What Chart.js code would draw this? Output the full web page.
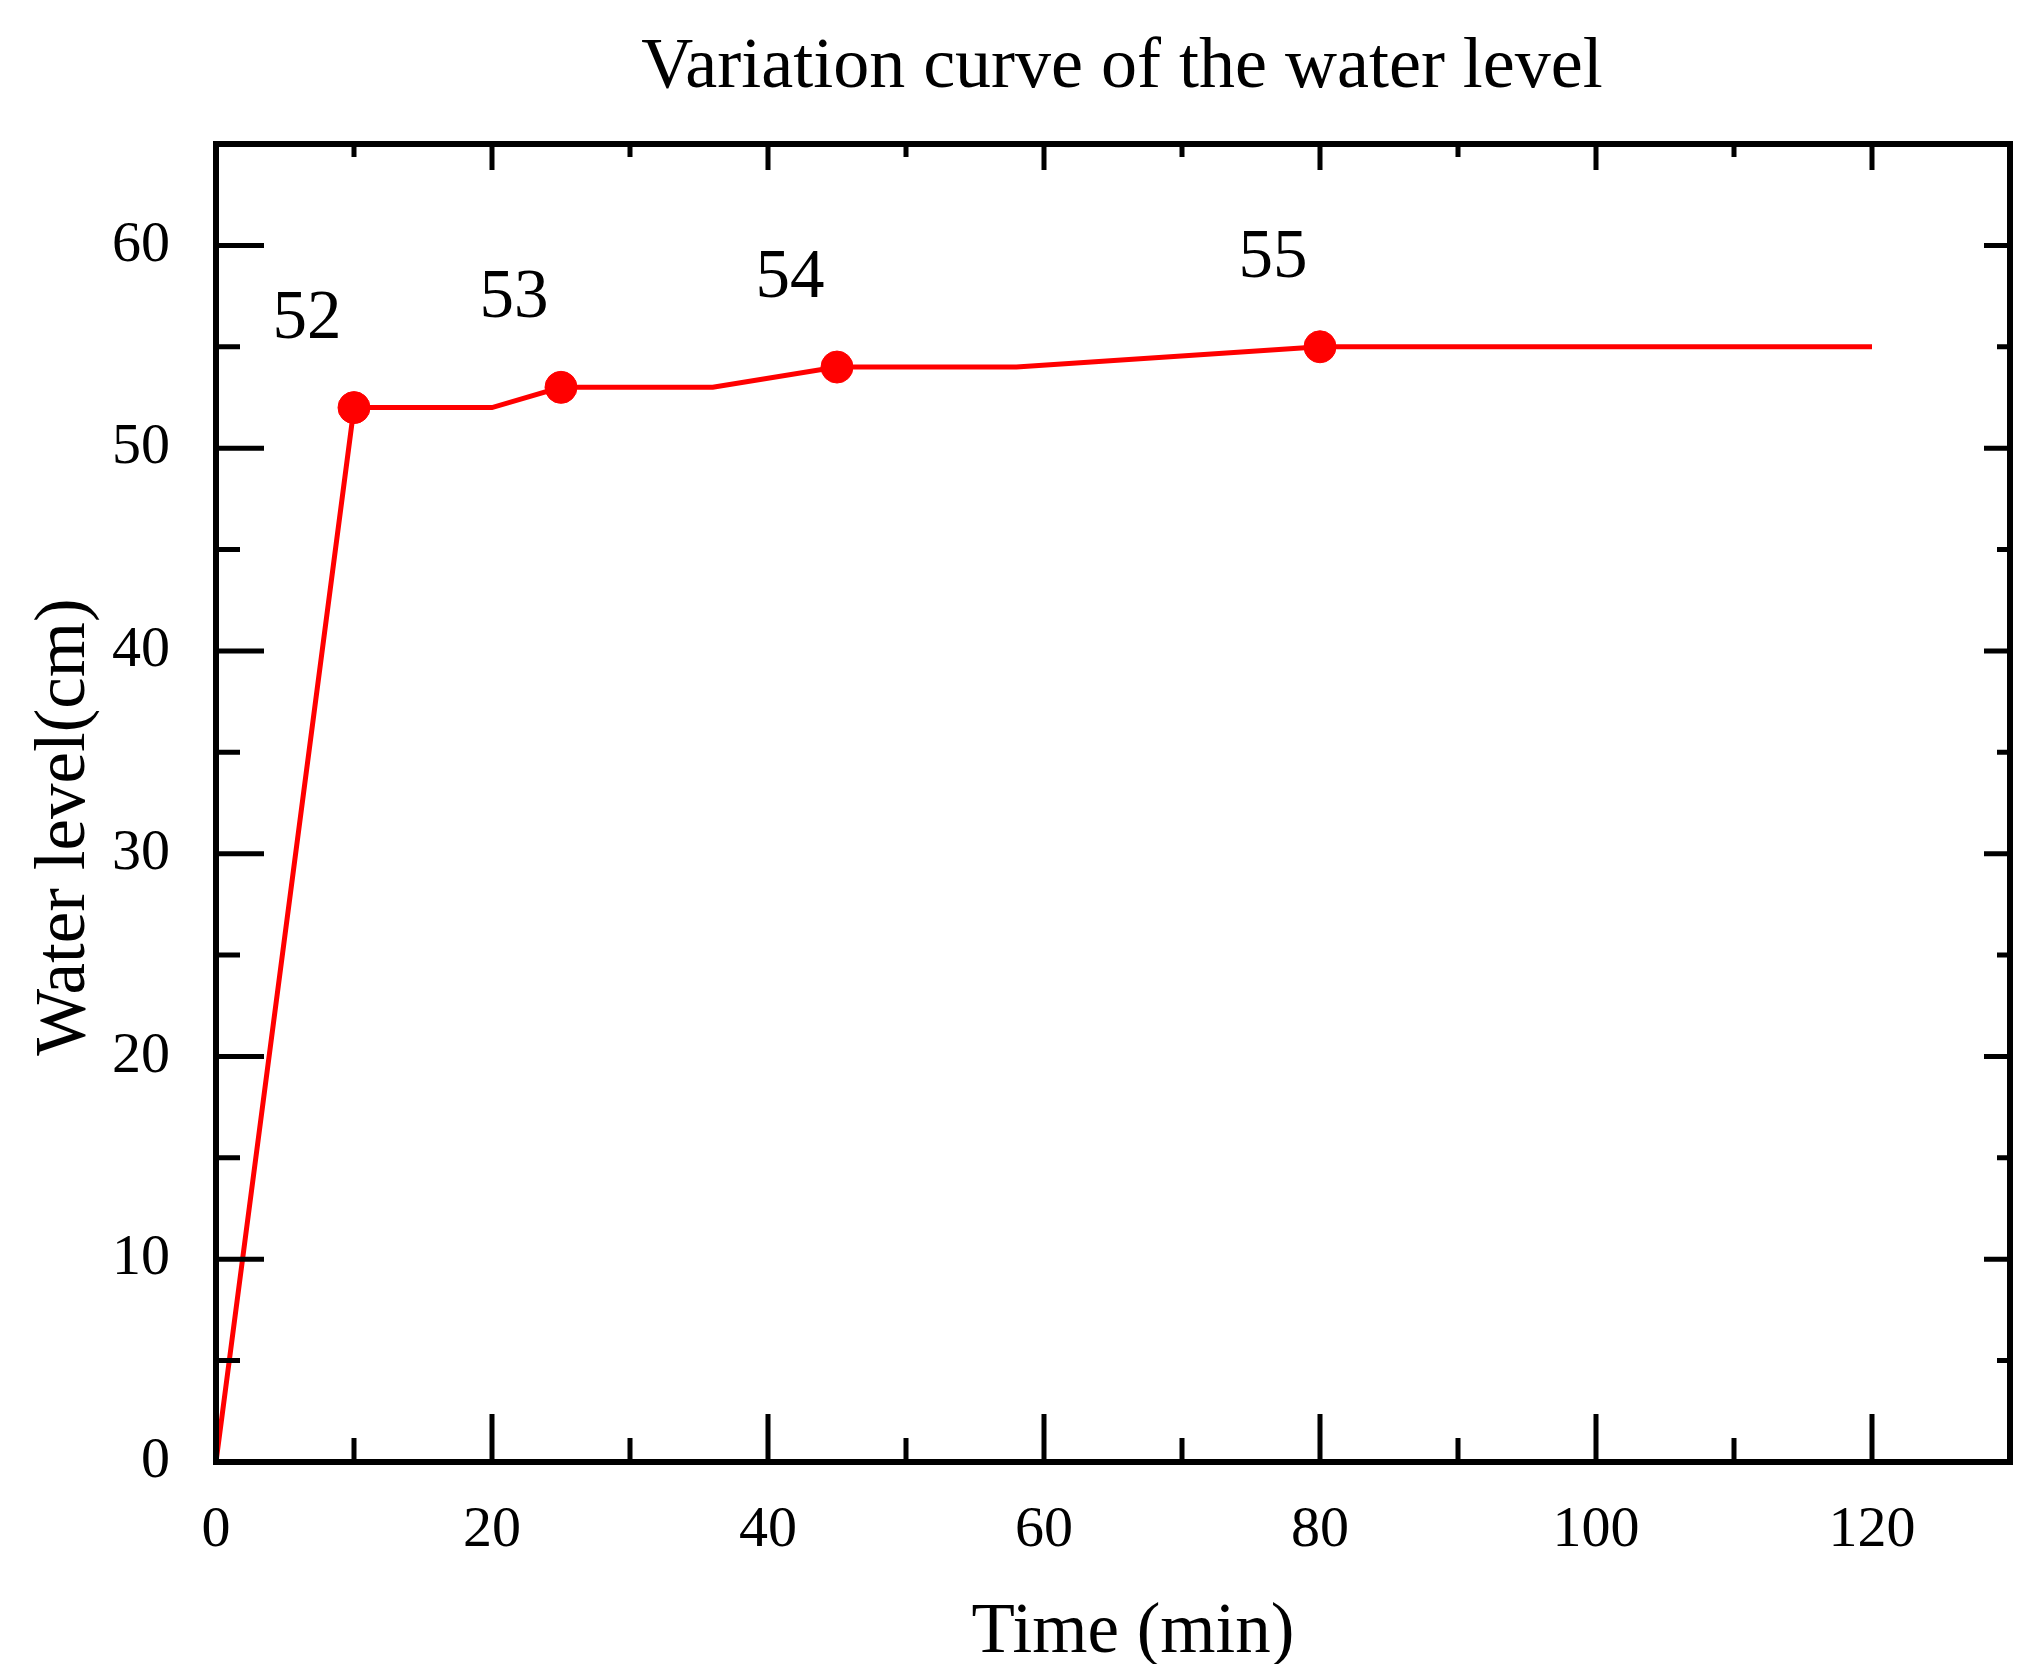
<!DOCTYPE html>
<html>
<head>
<meta charset="utf-8">
<title>Variation curve of the water level</title>
<script src="https://cdn.jsdelivr.net/npm/chart.js@4.4.1/dist/chart.umd.min.js"></script>
<style>
  html, body { margin: 0; padding: 0; background: #fff; }
  #box { width: 2044px; height: 1664px; }
</style>
</head>
<body>
<div id="box"><canvas id="waterChart" width="2044" height="1664"></canvas></div>
<script>
// Messwerte: Zeit (min) und Wasserstand (cm)
const timeValues = [0, 10, 20, 25, 36, 45, 58, 80, 120];
const levelValues = [0, 52, 52, 53, 53, 54, 54, 55, 55];

// markierte Punkte mit Beschriftung
const markTimes = [10, 25, 45, 80];
const markLevels = [52, 53, 54, 55];

const xTicks = [0, 20, 40, 60, 80, 100, 120];
const yTicks = [0, 10, 20, 30, 40, 50, 60];

const titleText = 'Variation curve of the water level';
const xTitle = 'Time (min)';
const yTitle = 'Water level(cm)';

const serif = '"Liberation Serif", "Times New Roman", serif';

function linePoints() {
  let pts = [];
  for (let i = 0; i < timeValues.length; i++) {
    pts.push({ x: timeValues[i], y: levelValues[i] });
  }
  return pts;
}

function markPoints() {
  let pts = [];
  for (let i = 0; i < markTimes.length; i++) {
    pts.push({ x: markTimes[i], y: markLevels[i] });
  }
  return pts;
}

// Rahmen, nach innen zeigende Striche, Titel und Punktbeschriftungen
const framePlugin = {
  id: 'frame',
  afterDatasetsDraw(chart) {
    let ctx = chart.ctx;
    let a = chart.chartArea;
    let xs = chart.scales.x;
    let ys = chart.scales.y;
    ctx.save();
    ctx.strokeStyle = '#000';

    // Striche
    ctx.lineWidth = 5;
    ctx.beginPath();
    for (let v = 10; v < 130; v += 10) {
      let px = xs.getPixelForValue(v);
      let major = v % 20 === 0;
      ctx.moveTo(px, a.bottom);
      ctx.lineTo(px, a.bottom - (major ? 48 : 24));
      ctx.moveTo(px, a.top);
      ctx.lineTo(px, a.top + (major ? 26 : 13));
    }
    for (let v = 5; v < 65; v += 5) {
      let py = ys.getPixelForValue(v);
      let major = v % 10 === 0;
      ctx.moveTo(a.left, py);
      ctx.lineTo(a.left + (major ? 48 : 24), py);
      ctx.moveTo(a.right, py);
      ctx.lineTo(a.right - (major ? 26 : 13), py);
    }
    ctx.stroke();

    // Rahmen
    ctx.lineWidth = 6;
    ctx.strokeRect(a.left, a.top, a.right - a.left, a.bottom - a.top);

    // Beschriftung der Punkte
    ctx.fillStyle = '#000';
    ctx.font = '69px ' + serif;
    ctx.textAlign = 'center';
    ctx.textBaseline = 'middle';
    for (let i = 0; i < markTimes.length; i++) {
      let px = xs.getPixelForValue(markTimes[i]);
      let py = ys.getPixelForValue(markLevels[i]);
      ctx.fillText(String(markLevels[i]), px - 47, py - 88);
    }

    // Titel
    let cx = (a.left + a.right) / 2;
    ctx.textBaseline = 'alphabetic';
    ctx.font = '72px ' + serif;
    ctx.fillText(titleText, cx + 9, a.top - 57);
    ctx.font = '71px ' + serif;
    ctx.fillText(xTitle, cx + 20, a.bottom + 190);

    ctx.translate(84, (a.top + a.bottom) / 2 + 24);
    ctx.rotate(-Math.PI / 2);
    ctx.font = '71px ' + serif;
    ctx.fillText(yTitle, 0, 0);
    ctx.restore();
  }
};

new Chart(document.getElementById('waterChart'), {
  type: 'scatter',
  data: {
    datasets: [{
      data: linePoints(),
      showLine: true,
      borderColor: '#ff0000',
      borderWidth: 5,
      pointRadius: 0,
      tension: 0
    }, {
      data: markPoints(),
      showLine: false,
      backgroundColor: '#ff0000',
      borderColor: '#ff0000',
      pointRadius: 16,
      pointStyle: 'circle'
    }]
  },
  options: {
    responsive: false,
    devicePixelRatio: 1,
    animation: false,
    layout: { padding: { top: 144, right: 32, bottom: 0, left: 0 } },
    plugins: {
      legend: { display: false },
      title: { display: false },
      tooltip: { enabled: false }
    },
    scales: {
      x: {
        type: 'linear',
        min: 0,
        max: 130,
        grid: { display: false, drawTicks: false },
        border: { display: false },
        afterFit(scale) { scale.height = 202; },
        ticks: {
          stepSize: 10,
          padding: 34,
          maxRotation: 0,
          autoSkip: false,
          color: '#000',
          font: { family: serif, size: 58 },
          callback: (v) => xTicks.includes(v) ? String(v) : ''
        }
      },
      y: {
        type: 'linear',
        min: 0,
        max: 65,
        grid: { display: false, drawTicks: false },
        border: { display: false },
        afterFit(scale) { scale.width = 216; },
        ticks: {
          stepSize: 5,
          padding: 46,
          autoSkip: false,
          color: '#000',
          font: { family: serif, size: 58 },
          callback: (v) => yTicks.includes(v) ? String(v) : ''
        }
      }
    }
  },
  plugins: [framePlugin]
});
</script>
</body>
</html>
